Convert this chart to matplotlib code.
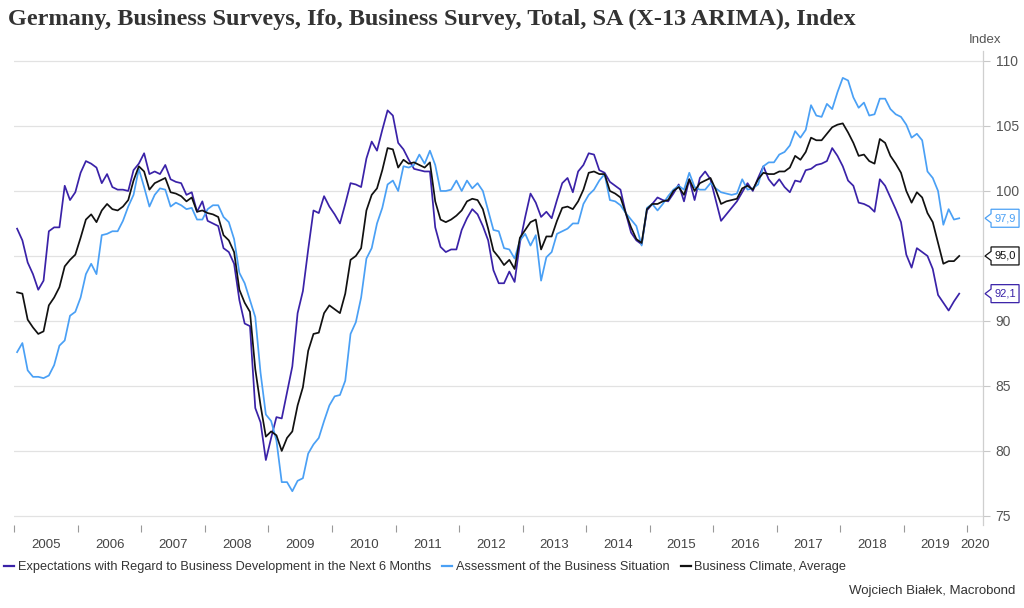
import matplotlib
matplotlib.use('Agg')
import matplotlib.pyplot as plt
from matplotlib.patches import Polygon
from matplotlib.lines import Line2D
import numpy as np

# Ifo monthly readings, Jan 2005 - Nov 2019
expectations = [
    97.1, 96.2, 94.5, 93.6, 92.4, 93.1, 96.9, 97.2, 97.2, 100.4,
    99.3, 99.9, 101.4, 102.3, 102.1, 101.8, 100.6, 101.3, 100.3, 100.1,
    100.1, 100.0, 101.6, 102.1, 102.9, 101.3, 101.5, 101.3, 102.0, 100.9,
    100.7, 100.6, 99.7, 99.9, 98.4, 99.2, 97.7, 97.5, 97.3, 95.6,
    95.3, 94.4, 91.6, 89.8, 89.6, 83.3, 82.2, 79.3, 81.0, 82.6,
    82.5, 84.5, 86.5, 90.6, 92.3, 95.5, 98.5, 98.3, 99.6, 98.8,
    98.2, 97.5, 99.0, 100.6, 100.5, 100.3, 102.5, 103.8, 103.1, 104.7,
    106.2, 105.8, 103.7, 103.2, 102.4, 101.7, 101.6, 101.5, 101.5, 97.2,
    95.7, 95.3, 95.5, 95.5, 97.0, 97.9, 98.6, 98.2, 97.3, 96.2,
    93.9, 92.9, 92.9, 93.8, 93.0, 96.0, 98.0, 99.8, 99.1, 98.0,
    98.4, 97.9, 99.3, 100.6, 101.0, 99.9, 101.5, 102.0, 102.9, 102.8,
    101.6, 101.4, 100.7, 100.4, 100.1, 98.3, 96.8, 96.2, 95.9, 98.5,
    99.0, 99.5, 99.3, 99.2, 99.8, 100.5, 99.2, 100.9, 99.3, 101.0,
    101.5, 100.9, 99.3, 97.7, 98.2, 98.7, 99.2, 99.9, 100.6, 100.0,
    101.0, 101.9, 100.9, 100.4, 100.9, 100.3, 99.9, 100.8, 100.7, 101.6,
    101.7, 102.0, 102.1, 102.3, 103.3, 102.7, 101.9, 100.8, 100.4, 99.1,
    99.0, 98.8, 98.4, 100.9, 100.4, 99.5, 98.6, 97.6, 95.1, 94.1,
    95.6, 95.3, 95.0, 94.0, 92.0, 91.4, 90.8, 91.5, 92.1,
]

assessment = [
    87.6, 88.3, 86.2, 85.7, 85.7, 85.6, 85.8, 86.6, 88.1, 88.5,
    90.4, 90.7, 91.8, 93.6, 94.4, 93.6, 96.6, 96.7, 96.9, 96.9,
    97.7, 98.8, 99.7, 101.7, 100.3, 98.8, 99.7, 100.2, 100.1, 98.8,
    99.1, 98.9, 98.6, 98.7, 97.8, 97.8, 98.6, 98.9, 98.9, 98.0,
    97.6, 96.3, 93.7, 92.9, 91.6, 90.3, 86.0, 82.8, 82.3, 80.8,
    77.6, 77.6, 76.9, 77.7, 77.9, 79.8, 80.5, 81.0, 82.3, 83.5,
    84.2, 84.3, 85.4, 89.0, 89.9, 91.8, 94.8, 95.6, 97.5, 98.7,
    100.5, 100.8, 100.0, 101.9, 101.8, 102.0, 102.8, 102.1, 103.1, 102.0,
    100.0, 100.0, 100.1, 100.8, 100.0, 100.8, 100.2, 100.6, 100.0, 98.5,
    97.0, 96.9, 95.6, 95.5, 94.8, 96.2, 96.7, 95.8, 96.6, 93.1,
    94.9, 95.3, 96.7, 96.9, 97.1, 97.5, 97.5, 99.0, 99.7, 100.1,
    100.8, 101.3, 99.3, 99.2, 98.9, 98.3, 97.8, 97.3, 95.8, 98.7,
    99.0, 98.5, 99.0, 99.6, 100.1, 100.4, 100.1, 101.4, 100.3, 100.1,
    100.1, 100.6, 100.2, 99.9, 99.8, 99.7, 99.8, 100.9, 100.1, 100.2,
    100.5, 101.9, 102.2, 102.2, 102.8, 103.0, 103.5, 104.6, 104.1, 104.7,
    106.6, 105.8, 105.7, 106.7, 106.3, 107.6, 108.7, 108.5, 107.2, 106.4,
    106.8, 105.8, 105.9, 107.1, 107.1, 106.3, 105.9, 105.7, 105.1, 104.1,
    104.4, 103.9, 101.5, 101.0, 100.0, 97.4, 98.6, 97.8, 97.9,
]

climate = [
    92.2, 92.1, 90.1, 89.5, 89.0, 89.2, 91.2, 91.8, 92.6, 94.2,
    94.7, 95.1, 96.4, 97.8, 98.2, 97.6, 98.5, 99.0, 98.6, 98.5,
    98.8, 99.3, 100.8, 101.9, 101.5, 100.1, 100.6, 100.8, 101.0, 99.9,
    99.8, 99.6, 99.2, 99.5, 98.4, 98.5, 98.3, 98.2, 98.0, 96.6,
    96.2, 95.3, 92.4, 91.4, 90.7, 86.3, 83.5, 81.1, 81.5, 81.2,
    80.0, 81.0, 81.5, 83.5, 84.9, 87.7, 89.0, 89.1, 90.6, 91.2,
    90.9, 90.6, 92.1, 94.7, 95.0, 95.6, 98.5, 99.7, 100.2, 101.6,
    103.3, 103.2, 101.8, 102.4, 102.1, 102.2, 102.0, 101.8, 102.2, 99.2,
    97.8, 97.6, 97.8, 98.1, 98.5, 99.2, 99.4, 99.3, 98.6, 97.1,
    95.4, 94.9, 94.3, 94.7, 94.0, 96.4, 97.0, 97.6, 97.8, 95.5,
    96.5, 96.5, 97.7, 98.7, 98.8, 98.6, 99.2, 100.1, 101.4, 101.5,
    101.3, 101.3, 100.0, 99.8, 99.5, 98.3, 97.2, 96.3, 96.0, 98.6,
    99.0, 99.0, 99.2, 99.3, 100.0, 100.3, 99.7, 100.9, 100.0, 100.6,
    100.8, 101.0, 100.1, 99.0, 99.2, 99.3, 99.4, 100.2, 100.4, 100.1,
    100.9, 101.4, 101.3, 101.3, 101.5, 101.5, 101.8, 102.7, 102.4, 103.0,
    104.1, 103.9, 103.9, 104.4, 104.9, 105.1, 105.2, 104.5, 103.7, 102.7,
    102.8, 102.3, 102.1, 104.0, 103.7, 102.7, 102.1, 101.4, 100.0, 99.1,
    99.9, 99.5, 98.3, 97.6, 96.0, 94.4, 94.6, 94.6, 95.0,
]

series_labels = [
    'Expectations with Regard to Business Development in the Next 6 Months',
    'Assessment of the Business Situation',
    'Business Climate, Average',
]
series_colors = ['#3a22a8', '#4aa0f5', '#111111']
year_labels = list(range(2005, 2021))
y_ticks = [75, 80, 85, 90, 95, 100, 105, 110]

plt.rcParams['font.family'] = ['Liberation Sans', 'DejaVu Sans']

all_series = [expectations, assessment, climate]
n = len(climate)
t = 2005 + (np.arange(n) + 0.5) / 12.0

fig = plt.figure(figsize=(10.24, 6.08), dpi=100)
ax = fig.add_axes([0.0141, 0.1365, 0.9459, 0.7803])

for vals, col in zip(all_series, series_colors):
    ax.plot(t, vals, color=col, lw=1.25, solid_joinstyle='round')

ax.set_xlim(2005, 2020.25)
ax.set_ylim(74.3, 110.8)

# y axis on the right; a tick label hidden under an end-value box is left blank
ends = [s[-1] for s in all_series]
ax.yaxis.tick_right()
ax.set_yticks(y_ticks)
ax.set_yticklabels(['' if min(abs(v - e) for e in ends) < 0.8 else str(v) for v in y_ticks])
ax.tick_params(axis='y', length=5, width=0.8, color='#c8c8c8', pad=4,
               labelsize=10, labelcolor='#555555')
ax.grid(axis='y', color='#e2e2e2', lw=0.9)
ax.set_axisbelow(True)
for side in ['left', 'top', 'bottom']:
    ax.spines[side].set_visible(False)
ax.spines['right'].set_color('#cfcfcf')
ax.spines['right'].set_linewidth(0.9)

# year boundaries as ticks, labels centred in each year
ax.set_xticks(year_labels)
ax.set_xticklabels([])
ax.tick_params(axis='x', which='major', length=5, width=0.8, color='#999999')
mids = [y + 0.5 for y in year_labels[:-1]] + [2020.125]
ax.set_xticks(mids, minor=True)
ax.set_xticklabels([str(y) for y in year_labels], minor=True)
ax.tick_params(axis='x', which='minor', length=0, pad=10,
               labelsize=9.5, labelcolor='#444444')

# end-value callouts
yax = ax.get_yaxis_transform()
px = 1.0 / (0.9459 * 1024)
hh = 9 / 13.0
for vals, col in zip(all_series, series_colors):
    v = vals[-1]
    x0 = 1 + 2 * px
    x1 = 1 + 8 * px
    x2 = 1 + 36 * px
    shape = [(x0, v), (x1, v + 0.35), (x1, v + hh), (x2, v + hh),
             (x2, v - hh), (x1, v - hh), (x1, v - 0.35)]
    ax.add_patch(Polygon(shape, closed=True, transform=yax, clip_on=False,
                         facecolor='white', edgecolor=col, lw=0.9, zorder=5))
    ax.text(1 + 22 * px, v, f'{v:.1f}'.replace('.', ','), transform=yax,
            ha='center', va='center', fontsize=8, color=col, clip_on=False, zorder=6)

fig.text(0.008, 1 - 19 / 608, 'Germany, Business Surveys, Ifo, Business Survey, Total, SA (X-13 ARIMA), Index',
         family=['Liberation Serif', 'DejaVu Serif'], fontweight='bold', fontsize=17.5,
         color='#333333', va='center', ha='left')
fig.text(985 / 1024, 1 - 40 / 608, 'Index', fontsize=9.5, color='#555555',
         ha='center', va='center')

handles = [Line2D([], [], color=c, lw=1.6) for c in series_colors]
fig.legend(handles, series_labels, loc='center left', bbox_to_anchor=(0.004, 1 - 567 / 608),
           ncol=3, frameon=False, fontsize=9.2, handlelength=0.8, handletextpad=0.25,
           columnspacing=0.9, borderaxespad=0, borderpad=0, labelcolor='#333333')

fig.text(1015 / 1024, 1 - 591 / 608, 'Wojciech Białek, Macrobond', fontsize=9.5,
         color='#333333', ha='right', va='center')

fig.savefig('out.png', dpi=100)
